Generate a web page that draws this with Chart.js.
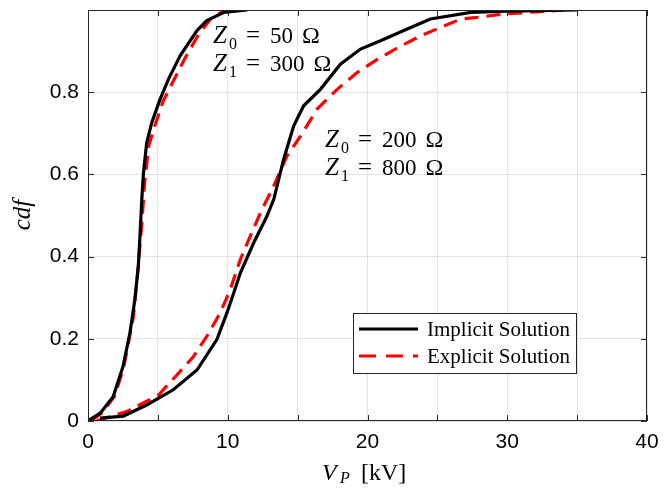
<!DOCTYPE html>
<html>
<head>
<meta charset="utf-8">
<script src="https://cdn.jsdelivr.net/npm/chart.js@4.4.0/dist/chart.umd.min.js"></script>
<style>
  html, body { margin: 0; padding: 0; background: #fff; }
  #wrap { width: 664px; height: 494px; }
</style>
</head>
<body>
<div id="wrap"><canvas id="cdfChart" width="664" height="494"></canvas></div>
<script>
// Z0 = 50 ohm, Z1 = 300 ohm
const impl50X = [0, 0.9, 1.8, 2.5, 3.0, 3.35, 3.6, 3.73, 3.85, 3.97, 4.2, 4.56, 5.16, 5.76, 6.6, 7.8, 8.5, 9.7, 11.4];
const impl50Y = [0, 0.02, 0.059, 0.132, 0.214, 0.295, 0.376, 0.458, 0.539, 0.604, 0.677, 0.726, 0.783, 0.832, 0.889, 0.95, 0.974, 0.994, 1.0];
const expl50X = [0.2, 1.0, 1.9, 2.55, 3.25, 3.55, 3.85, 4.05, 4.35, 4.8, 5.4, 6.0, 6.9, 7.9, 8.96, 10.0];
const expl50Y = [0, 0.02, 0.06, 0.13, 0.254, 0.36, 0.48, 0.58, 0.67, 0.72, 0.78, 0.82, 0.88, 0.94, 0.986, 1.0];

// Z0 = 200 ohm, Z1 = 800 ohm
const impl200X = [0.86, 2.53, 4.2, 6.1, 7.8, 9.22, 9.94, 10.42, 10.9, 11.85, 12.8, 13.3, 14.0, 14.72, 15.43, 16.63, 18.06, 19.5, 20.93, 22.6, 24.5, 27.4, 30.0, 35.0];
const impl200Y = [0.007, 0.012, 0.039, 0.076, 0.124, 0.198, 0.263, 0.311, 0.36, 0.433, 0.498, 0.54, 0.637, 0.718, 0.767, 0.807, 0.868, 0.905, 0.925, 0.95, 0.978, 0.994, 0.997, 1.0];
const expl200X = [0.62, 2.77, 5.04, 6.36, 7.55, 8.5, 9.46, 10.18, 10.9, 11.61, 12.45, 13.17, 14.24, 15.2, 16.4, 17.83, 19.26, 20.7, 22.37, 23.8, 25.47, 26.67, 27.86, 29.7, 34.05];
const expl200Y = [0, 0.023, 0.063, 0.112, 0.157, 0.206, 0.263, 0.32, 0.393, 0.45, 0.515, 0.563, 0.645, 0.693, 0.759, 0.807, 0.848, 0.88, 0.912, 0.937, 0.961, 0.978, 0.982, 0.99, 1.0];

const seriesLabels = ["Implicit Solution", "Explicit Solution"];
const xTicks = [0, 10, 20, 30, 40];
const yTicks = [0, 0.2, 0.4, 0.6, 0.8];

function pts(xs, ys) {
    return xs.map((x, i) => ({ x: x, y: ys[i] }));
}

const blackLine = { borderColor: "#000000", borderWidth: 3.2, pointRadius: 0, showLine: true, tension: 0, fill: false };
const redLine = { borderColor: "#ff0000", borderWidth: 3.2, borderDash: [14, 8], pointRadius: 0, showLine: true, tension: 0, fill: false };

const serif = "'Liberation Serif', 'Times New Roman', serif";

// draws the matlab-like frame, inner ticks, legend and text labels
const extrasPlugin = {
    id: "extras",
    afterDatasetsDraw(chart) {
        const ctx = chart.ctx;
        const a = chart.chartArea;
        const xs = chart.scales.x;
        const ys = chart.scales.y;
        ctx.save();

        // frame
        ctx.strokeStyle = "#262626";
        ctx.lineWidth = 1;
        ctx.strokeRect(a.left + 0.5, a.top + 0.5, a.right - a.left - 1, a.bottom - a.top - 1);

        // inner ticks
        ctx.beginPath();
        for (let v = 0; v <= 40; v += 5) {
            const px = Math.round(xs.getPixelForValue(v)) + 0.5;
            ctx.moveTo(px, a.bottom); ctx.lineTo(px, a.bottom - 6);
            ctx.moveTo(px, a.top); ctx.lineTo(px, a.top + 6);
        }
        yTicks.forEach(v => {
            const py = Math.round(ys.getPixelForValue(v)) + 0.5;
            ctx.moveTo(a.left, py); ctx.lineTo(a.left + 6, py);
            ctx.moveTo(a.right, py); ctx.lineTo(a.right - 6, py);
        });
        ctx.stroke();

        // legend
        ctx.fillStyle = "#ffffff";
        ctx.fillRect(353, 313, 223, 60);
        ctx.strokeStyle = "#262626";
        ctx.strokeRect(353.5, 313.5, 223, 60);
        ctx.lineWidth = 3.2;
        ctx.strokeStyle = "#000000";
        ctx.beginPath(); ctx.moveTo(359, 329); ctx.lineTo(418, 329); ctx.stroke();
        ctx.strokeStyle = "#ff0000";
        ctx.setLineDash([17, 10]);
        ctx.beginPath(); ctx.moveTo(359, 356); ctx.lineTo(418, 356); ctx.stroke();
        ctx.setLineDash([]);
        ctx.fillStyle = "#000000";
        ctx.font = "21px " + serif;
        ctx.textBaseline = "alphabetic";
        ctx.textAlign = "left";
        ctx.fillText(seriesLabels[0], 427, 336);
        ctx.fillText(seriesLabels[1], 427, 363);

        // Z annotations
        function zLine(x, y, sub, num) {
            ctx.font = "italic 25px " + serif;
            ctx.fillText("Z", x, y);
            ctx.font = "16px " + serif;
            ctx.fillText(sub, x + 16, y + 6);
            ctx.font = "25px " + serif;
            ctx.fillText("=", x + 33, y);
            ctx.font = "23px " + serif;
            ctx.fillText(num, x + 57, y);
            const w = ctx.measureText(num).width;
            ctx.font = "24px " + serif;
            ctx.fillText("\u03A9", x + 57 + w + 9, y);
        }
        zLine(213, 43, "0", "50");
        zLine(213, 71, "1", "300");
        zLine(325, 147, "0", "200");
        zLine(325, 175, "1", "800");

        // x axis title: V_P [kV]
        ctx.font = "italic 24px " + serif;
        ctx.fillText("V", 322, 480);
        ctx.font = "italic 16px " + serif;
        ctx.fillText("P", 340, 483);
        ctx.font = "24px " + serif;
        ctx.fillText("[kV]", 361, 480);

        // y axis title
        ctx.translate(30, 215);
        ctx.rotate(-Math.PI / 2);
        ctx.textAlign = "center";
        ctx.font = "italic 25px " + serif;
        ctx.fillText("cdf", 0, 0);
        ctx.restore();
    }
};

const tickFont = { family: "'Liberation Sans', Arial, sans-serif", size: 21 };

new Chart(document.getElementById("cdfChart").getContext("2d"), {
    type: "scatter",
    data: {
        datasets: [
            Object.assign({ label: seriesLabels[0], data: pts(impl50X, impl50Y) }, blackLine),
            Object.assign({ label: seriesLabels[1], data: pts(expl50X, expl50Y) }, redLine),
            Object.assign({ label: seriesLabels[0] + " 2", data: pts(impl200X, impl200Y) }, blackLine),
            Object.assign({ label: seriesLabels[1] + " 2", data: pts(expl200X, expl200Y) }, redLine),
        ],
    },
    options: {
        responsive: false,
        animation: false,
        layout: { padding: { left: 0, right: 17, top: 10, bottom: 0 } },
        plugins: { legend: { display: false }, tooltip: { enabled: false } },
        scales: {
            x: {
                min: 0, max: 40,
                afterFit: s => { s.height = 73; s.paddingLeft = 0; s.paddingRight = 0; },
                border: { display: false },
                grid: { color: "#e3e3e3", lineWidth: 1, drawTicks: false },
                ticks: {
                    stepSize: 5, color: "#000", font: tickFont, padding: 9, maxRotation: 0,
                    callback: v => xTicks.includes(v) ? String(v) : "",
                },
            },
            y: {
                min: 0, max: 1,
                afterFit: s => { s.width = 88; s.paddingTop = 0; s.paddingBottom = 0; },
                border: { display: false },
                grid: { color: "#e3e3e3", lineWidth: 1, drawTicks: false },
                ticks: {
                    stepSize: 0.2, color: "#000", font: tickFont, padding: 9,
                    callback: v => {
                        const r = Math.round(v * 10) / 10;
                        return yTicks.includes(r) ? String(r) : "";
                    },
                },
            },
        },
    },
    plugins: [extrasPlugin],
});
</script>
</body>
</html>
